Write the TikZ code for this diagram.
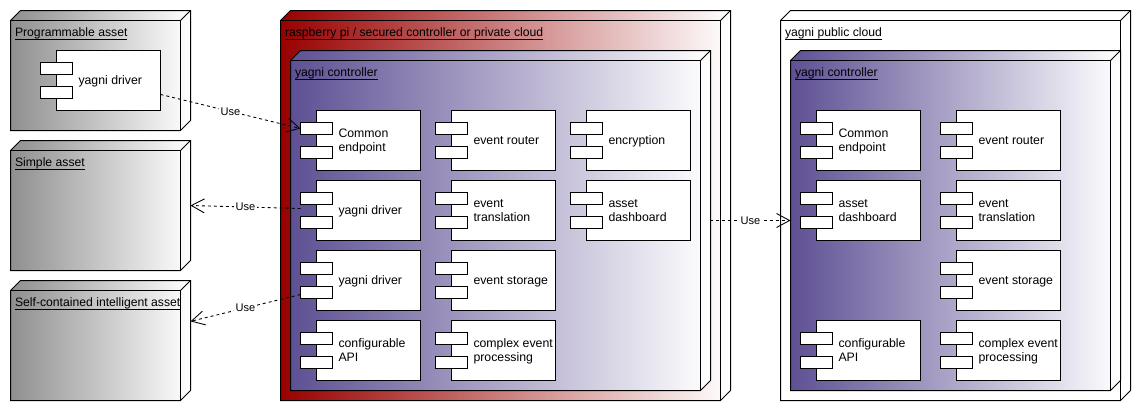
\documentclass[tikz,border=0pt]{standalone}
\usepackage{fontspec}
\setmainfont{Liberation Sans}
\usetikzlibrary{arrows.meta}
\definecolor{assetgray}{RGB}{143,143,143}
\definecolor{cloudred}{RGB}{153,0,0}
\definecolor{ctrlpurple}{RGB}{94,80,148}
\tikzstyle{boxname} = [font=\fontsize{6.94}{8}\selectfont,anchor=base west,inner sep=0pt,outer sep=0pt]
\tikzstyle{boxarea} = [inner sep=0pt,outer sep=0pt]
\tikzstyle{boxline} = [draw,line width=0.57pt,line join=miter]
\tikzstyle{compbody} = [draw,fill=white,line width=0.57pt,anchor=north west,minimum width=2.08cm,minimum height=1.2cm,inner sep=0pt,outer sep=0pt]
\tikzstyle{comptab} = [draw,fill=white,line width=0.57pt,anchor=north west,minimum width=0.64cm,minimum height=0.24cm,inner sep=0pt,outer sep=0pt]
\tikzstyle{comptext} = [font=\fontsize{7}{7.97}\selectfont,align=left,anchor=west,inner sep=0pt,outer sep=0pt]
\tikzstyle{useline} = [dashed,dash pattern=on 1.7pt off 1.7pt,line width=0.5pt,-{Straight Barb[length=0.26cm,width=0.28cm]}]
\tikzstyle{uselabel} = [font=\fontsize{6.3}{8}\selectfont,fill=white,inner sep=1pt,outer sep=0pt]
% name, left, top, right, bottom, colour, title
\newcommand{\devnode}[7]{%
	\draw[boxline,left color=#6,right color=white] (#2,#3+10) -- (#2+10,#3) -- (#4,#3) -- (#4,#5-10) -- (#4-10,#5) -- (#2,#5) -- cycle;
	\draw[boxline] (#2,#3+10) -- (#4-10,#3+10) -- (#4-10,#5);
	\draw[boxline] (#4-10,#3+10) -- (#4,#3);
	\node[boxarea,minimum width=#4*0.02cm-#2*0.02cm,minimum height=#5*0.02cm-#3*0.02cm] (#1) at ({(#2+#4)/2},{(#3+#5)/2}) {};
	\node[boxname] (#1t) at (#2+4.5,#3+26) {\underline{\smash{#7}}};
}
% name, left, top, text
\newcommand{\compnode}[4]{%
	\begin{scope}[shift={(#2,#3)}]
		\node[compbody] (#1) at (0,0) {};
		\node[comptab] (#1a) at (-16,12) {};
		\node[comptab] (#1b) at (-16,36) {};
		\node[comptext] (#1t) at (22,31) {\strut #4\strut};
	\end{scope}
}
\begin{document}
\begin{tikzpicture}[x=0.02cm,y=-0.02cm]
	\useasboundingbox (-0.5,-0.5) rectangle (1131.5,409.5);

	%% deployment boxes
	\devnode{progasset}{10}{10}{190}{130}{assetgray}{Programmable asset}
	\devnode{simpleasset}{10}{140}{190}{270}{assetgray}{Simple asset}
	\devnode{selfasset}{10}{280}{190}{400}{assetgray}{Self-contained intelligent asset}
	\devnode{privcloud}{280}{10}{730}{400}{cloudred}{raspberry pi / secured controller or private cloud}
	\devnode{privctrl}{290}{50}{710}{390}{ctrlpurple}{yagni controller}
	\devnode{pubcloud}{780}{10}{1130}{400}{white}{yagni public cloud}
	\devnode{pubctrl}{790}{50}{1120}{390}{ctrlpurple}{yagni controller}

	%% components
	\compnode{drva}{56}{50}{yagni driver}
	\compnode{common}{316}{110}{Common\\endpoint}
	\compnode{drvb}{316}{180}{yagni driver}
	\compnode{drvc}{316}{250}{yagni driver}
	\compnode{api}{316}{320}{configurable\\API}
	\compnode{router}{451}{110}{event router}
	\compnode{transl}{451}{180}{event\\translation}
	\compnode{storage}{451}{250}{event storage}
	\compnode{cep}{451}{320}{complex event\\processing}
	\compnode{crypt}{586}{110}{encryption}
	\compnode{dash}{586}{180}{asset\\dashboard}
	\compnode{pubcommon}{816}{110}{Common\\endpoint}
	\compnode{pubdash}{816}{180}{asset\\dashboard}
	\compnode{pubapi}{816}{320}{configurable\\API}
	\compnode{pubrouter}{956}{110}{event router}
	\compnode{pubtransl}{956}{180}{event\\translation}
	\compnode{pubstorage}{956}{250}{event storage}
	\compnode{pubcep}{956}{320}{complex event\\processing}

	%% edges
	\coordinate (drvbout) at (300,208);
	\coordinate (drvcout) at (300,294);
	\draw[useline] (drva.-15) -- node[uselabel] (use1) {Use} (commona.west);
	\draw[useline] (drvbout) -- node[uselabel] (use2) {Use} (simpleasset.east);
	\draw[useline] (drvcout) -- node[uselabel] (use3) {Use} (selfasset.12.5);
	\draw[useline] (privctrl.east) -- node[uselabel] (use4) {Use} (pubctrl.west);
\end{tikzpicture}
\end{document}
